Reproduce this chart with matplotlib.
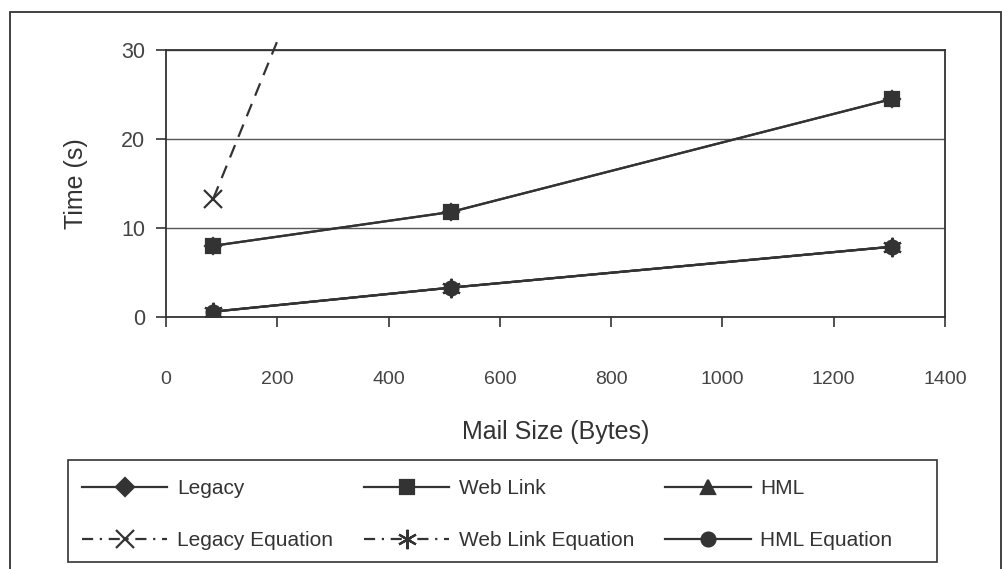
import matplotlib.pyplot as plt
from matplotlib.lines import Line2D
from matplotlib.patches import Rectangle

plt.rcParams['font.family'] = ['Liberation Sans', 'DejaVu Sans']

# mail sizes (bytes) and measured / predicted times (s)
mail_size = [85, 512, 1305]
legacy = [8.0, 11.8, 24.5]
web_link = [8.0, 11.8, 24.5]
hml = [0.6, 3.3, 7.9]
legacy_eq = [13.3, 79.0, 200.0]
web_link_eq = [0.6, 3.3, 7.9]
hml_eq = [0.6, 3.3, 7.9]

x_ticks = [0, 200, 400, 600, 800, 1000, 1200, 1400]
y_ticks = [0, 10, 20, 30]

ink = "#333333"

fig = plt.figure(figsize=(10.03, 5.69), dpi=100)
ax = fig.add_axes([166 / 1003, 1 - 317 / 569, (945 - 166) / 1003, (317 - 50) / 569])

series = [
    (legacy, "D", "-", 8, "Legacy"),
    (web_link, "s", "-", 10, "Web Link"),
    (hml, "^", "-", 7, "HML"),
    (legacy_eq, "x", (0, (6, 4)), 13, "Legacy Equation"),
    (web_link_eq, (6, 2, 0), "-", 14, "Web Link Equation"),
    (hml_eq, "o", "-", 10, "HML Equation"),
]
for values, marker, ls, ms, name in series:
    ln, = ax.plot(mail_size, values, color=ink, lw=1.6, ls=ls, marker=marker, ms=ms,
                  mew=1.6, mfc=ink, mec=ink, label=name)
    # let lines run a little past the top like the original
    ln.set_clip_path(Rectangle((0, 0), 1, 1.035, transform=ax.transAxes))

ax.set_xlim(0, 1400)
ax.set_ylim(0, 30)
ax.set_xticks(x_ticks)
ax.set_yticks(y_ticks)
ax.grid(axis="y", color="#555555", lw=1.0)
ax.set_axisbelow(True)
for sp in ax.spines.values():
    sp.set_color(ink)
    sp.set_linewidth(1.3)
ax.tick_params(axis="x", direction="out", length=7, width=1.2, color=ink, pad=32,
               labelsize=14, labelcolor="#444444")
ax.tick_params(axis="y", direction="out", length=7, width=1.2, color=ink, pad=8,
               labelsize=15.5, labelcolor="#444444")
ax.set_xlabel("Mail Size (Bytes)", fontsize=18, color="#333333")
ax.set_ylabel("Time (s)", fontsize=18, color="#333333")
ax.xaxis.set_label_coords(0.5, -0.385)
ax.yaxis.set_label_coords(-0.100, 0.5)

# legend proxies (equation lines drawn dash-dot in the key)
def proxy(marker, ls, ms):
    return Line2D([], [], color=ink, lw=1.6, ls=ls, marker=marker, ms=ms, mew=1.6,
                  mfc=ink, mec=ink)

handles = [proxy("D", "-", 9), proxy("x", (0, (5, 3, 1, 3)), 13),
           proxy("s", "-", 10), proxy((6, 2, 0), (0, (5, 3, 1, 3)), 14),
           proxy("^", "-", 10), proxy("o", "-", 10)]
labels = ["Legacy", "Legacy Equation", "Web Link", "Web Link Equation", "HML", "HML Equation"]
leg = fig.legend(handles, labels, ncol=3, loc="upper left",
                 bbox_to_anchor=(82 / 1003, 1 - 479 / 569),
                 fontsize=15, handlelength=4.1, handletextpad=0.45, columnspacing=1.5,
                 labelspacing=1.6, borderaxespad=0, borderpad=0, frameon=False)
for t in leg.get_texts():
    t.set_color("#333333")

# legend box
fig.add_artist(Rectangle((68 / 1003, 1 - 562 / 569), (937 - 68) / 1003, (562 - 460) / 569,
                         transform=fig.transFigure, fill=False, edgecolor=ink, lw=1.2))

# outer chart frame
fig.add_artist(Rectangle((10 / 1003, -0.02), (1001 - 10) / 1003, 1.02 - 12 / 569,
                         transform=fig.transFigure, fill=False, edgecolor=ink, lw=1.3))

fig.savefig("out.png", dpi=100)
